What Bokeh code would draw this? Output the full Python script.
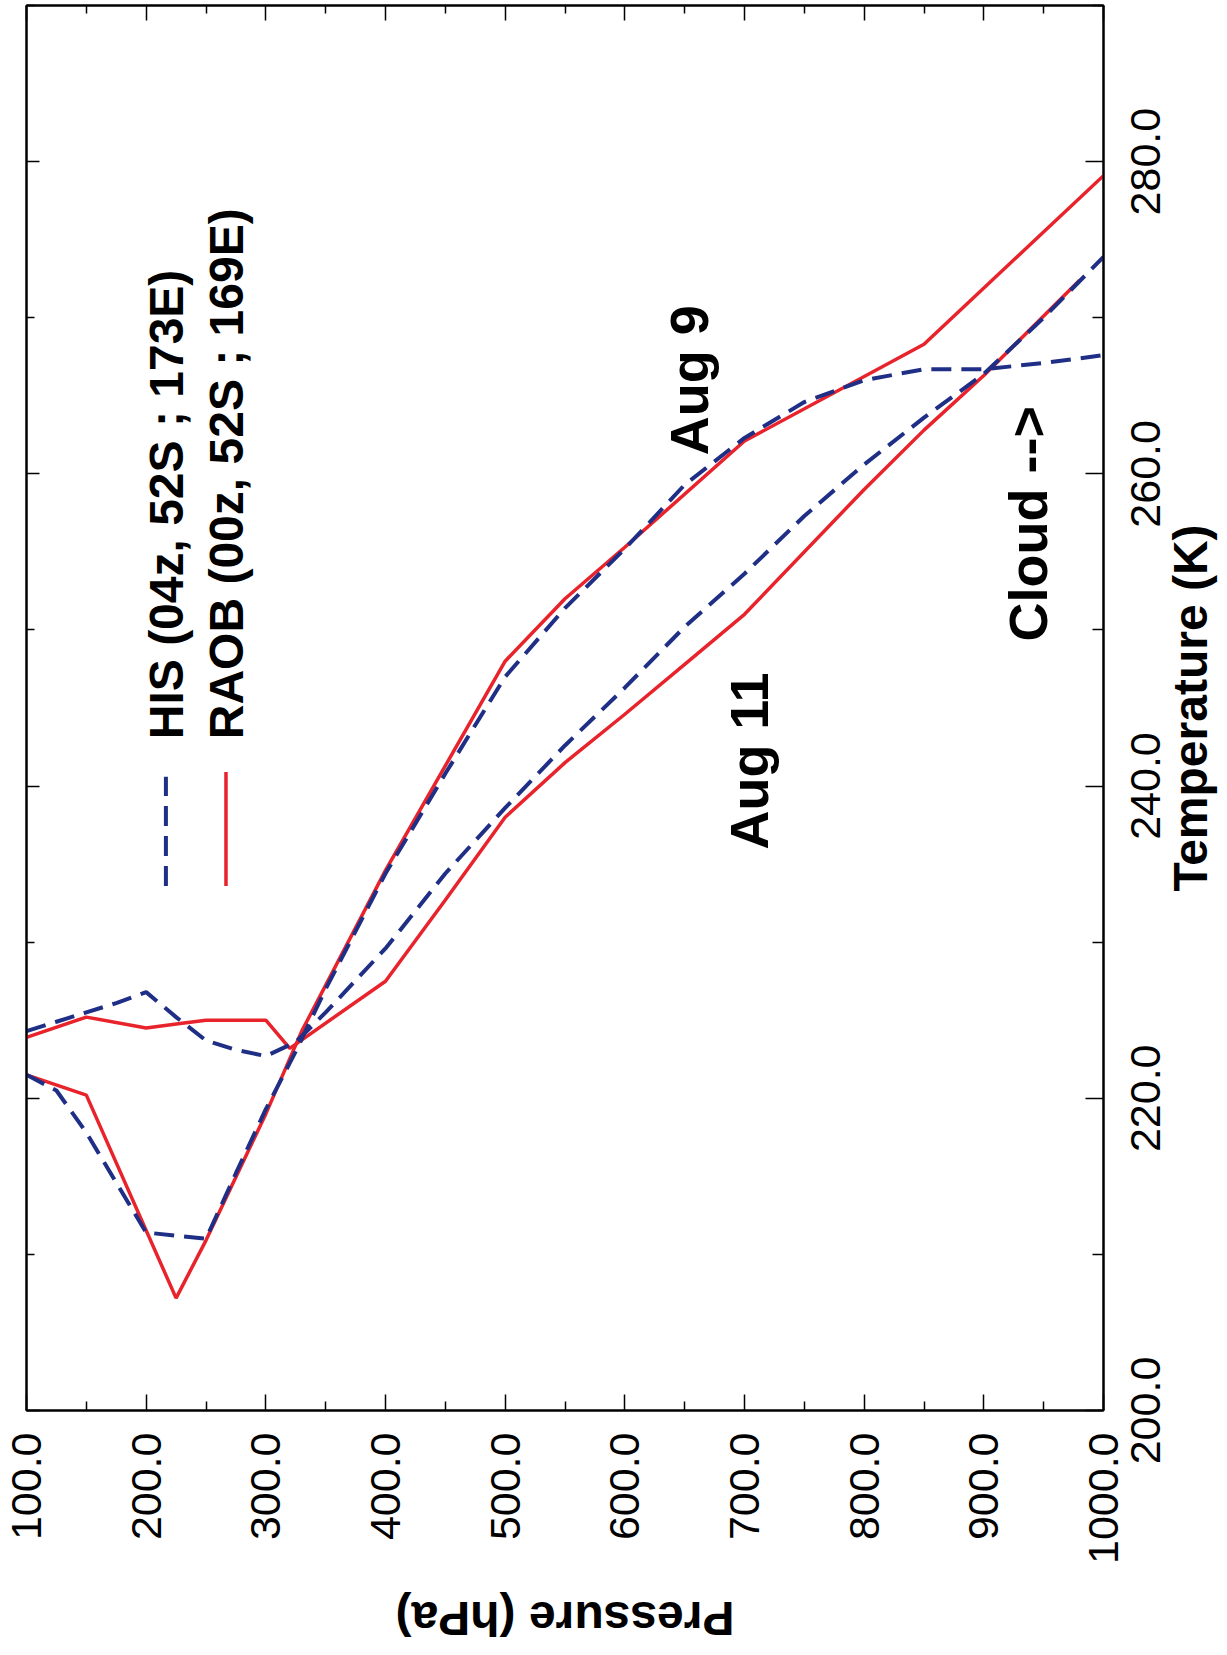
import math
from bokeh.plotting import figure
from bokeh.layouts import row, column
from bokeh.models import LinearAxis, FixedTicker, Range1d, CustomJSTickFormatter
from bokeh.core.properties import value
from bokeh.embed import file_html
from bokeh.resources import INLINE

# ---------------- data ----------------
pressure_ticks = [100, 200, 300, 400, 500, 600, 700, 800, 900, 1000]
pressure_tick_labels = ["100.0", "200.0", "300.0", "400.0", "500.0",
                        "600.0", "700.0", "800.0", "900.0", "1000.0"]
pressure_minor = [150, 250, 350, 450, 550, 650, 750, 850, 950]
temp_ticks = [200, 220, 240, 260, 280]
temp_tick_labels = ["200.0", "220.0", "240.0", "260.0", "280.0"]
temp_minor = [210, 230, 250, 270, 290]

# Aug 9
aug9_his_p = [100, 125, 150, 175, 200, 250, 275, 300, 325, 350, 400, 450, 500,
              550, 600, 650, 700, 750, 800, 850, 900, 950, 1000]
aug9_his_t = [221.5, 220.5, 217.8, 214.6, 211.4, 211.0, 215.2, 219.3, 223.0, 227.0,
              234.4, 240.8, 247.0, 251.4, 255.2, 259.3, 262.3, 264.6, 266.0, 266.7,
              266.7, 267.1, 267.6]
aug9_raob_p = [100, 150, 225, 250, 300, 330, 400, 500, 550, 600, 700, 850, 1000]
aug9_raob_t = [221.5, 220.2, 207.2, 210.9, 219.0, 224.3, 234.6, 248.0, 252.0,
               255.3, 262.1, 268.3, 279.1]

# Aug 11
aug11_his_p = [100, 125, 150, 175, 200, 225, 250, 275, 300, 325, 350, 400, 450, 500,
               550, 600, 650, 700, 750, 800, 850, 900, 950, 1000]
aug11_his_t = [224.3, 224.9, 225.5, 226.1, 226.8, 225.2, 223.7, 223.1, 222.7, 223.6,
               225.5, 229.6, 234.4, 238.6, 242.6, 246.3, 250.2, 253.6, 257.3, 260.6,
               263.6, 266.4, 270.0, 273.9]
aug11_raob_p = [100, 150, 200, 230, 250, 300, 320, 400, 450, 500, 550, 600, 650,
                700, 800, 850, 900, 980]
aug11_raob_t = [223.9, 225.2, 224.5, 224.8, 225.0, 225.0, 223.2, 227.5, 232.7, 238.0,
                241.5, 244.6, 247.8, 251.0, 259.0, 262.8, 266.3, 272.4]

legend_labels = ["HIS (04z, 52S ; 173E)", "RAOB (00z, 52S ; 169E)"]
annotations = ["Aug 9", "Aug 11", "Cloud -->"]
x_title = "Pressure (hPa)"
y_title = "Temperature (K)"

# ---------------- layout / style ----------------
RED = "#e8232b"
BLUE = "#1f2f86"
FONT = "Liberation Sans"
DASH = "20 10"

P_RANGE = (100, 1000)
T_RANGE = (200, 290)
LEFT_B, RIGHT_B, TOP_B, BOTTOM_B = 26, 17, 5, 170
MAIN_W, MAIN_H = 1120, 1580
TITLE_H = 70
TOTAL_W, TOTAL_H = 1225, MAIN_H + TITLE_H
SIDE_W = TOTAL_W - MAIN_W
FRAME_H = MAIN_H - TOP_B - BOTTOM_B
PX_PER_K = FRAME_H / (T_RANGE[1] - T_RANGE[0])
TICKLABEL_X = 24.6   # inside the side panel
YTITLE_X = 70

x_range = Range1d(*P_RANGE)
y_range = Range1d(*T_RANGE)

def bare(fig):
    fig.xgrid.visible = False
    fig.ygrid.visible = False
    fig.background_fill_color = "white"
    fig.border_fill_color = "white"
    return fig

p = bare(figure(width=MAIN_W, height=MAIN_H, x_range=x_range, y_range=y_range,
                output_backend="svg", toolbar_location=None,
                x_axis_location=None, y_axis_location=None,
                min_border_left=LEFT_B, min_border_top=TOP_B,
                min_border_right=RIGHT_B, min_border_bottom=BOTTOM_B))
p.outline_line_color = "black"
p.outline_line_width = 2

blank = "return ''"

def style_axis(ax, tin, tmin):
    ax.axis_line_color = "black"
    ax.axis_line_width = 2
    ax.major_tick_line_color = "black"
    ax.major_tick_line_width = 1.5
    ax.minor_tick_line_color = "black"
    ax.minor_tick_line_width = 1.5
    ax.major_tick_out = 0
    ax.minor_tick_out = 0
    ax.major_tick_in = tin
    ax.minor_tick_in = tmin
    ax.major_label_text_font = FONT
    ax.major_label_text_font_size = "43px"
    ax.major_label_text_color = "black"

bottom = LinearAxis(ticker=FixedTicker(ticks=pressure_ticks, minor_ticks=pressure_minor))
bottom.major_label_overrides = {t: l for t, l in zip(pressure_ticks, pressure_tick_labels)}
style_axis(bottom, 16, 9)
bottom.major_label_orientation = math.pi / 2
bottom.major_label_standoff = 22
p.add_layout(bottom, "below")

def tick_only(ticks, minor, tin, tmin):
    ax = LinearAxis(ticker=FixedTicker(ticks=ticks, minor_ticks=minor),
                    formatter=CustomJSTickFormatter(code=blank))
    style_axis(ax, tin, tmin)
    ax.major_label_text_font_size = "0px"
    ax.major_label_standoff = 0
    return ax

p.add_layout(tick_only(temp_ticks, temp_minor, 18, 11), "right")
p.add_layout(tick_only(pressure_ticks, pressure_minor, 15, 8), "above")
p.add_layout(tick_only(temp_ticks, temp_minor, 13, 8), "left")

# curves
p.line(aug9_raob_p, aug9_raob_t, line_color=RED, line_width=3.5)
p.line(aug11_raob_p, aug11_raob_t, line_color=RED, line_width=3.5)
p.line(aug9_his_p, aug9_his_t, line_color=BLUE, line_width=4, line_dash=DASH)
p.line(aug11_his_p, aug11_his_t, line_color=BLUE, line_width=4, line_dash=DASH)

# legend (rotated, drawn manually)
p.line([216.5, 216.5], [233.6, 240.6], line_color=BLUE, line_width=4, line_dash=DASH)
p.line([266.7, 266.7], [233.6, 240.9], line_color=RED, line_width=3.5)
p.text(x=[216.7, 267.3], y=[243.0, 243.0], text=legend_labels, angle=math.pi / 2,
       text_font=value(FONT), text_font_style="bold", text_font_size="48px",
       text_color="black", text_align="left", text_baseline="alphabetic")

# annotations
p.text(x=[654, 703.5, 937], y=[266.0, 241.6, 256.8], text=annotations, angle=math.pi / 2,
       text_font=value(FONT), text_font_style="bold", text_font_size="54px",
       text_color="black", text_align="center", text_baseline="alphabetic")

# ---- bottom panel: pressure title ----
p3 = bare(figure(width=MAIN_W, height=TITLE_H, x_range=x_range, y_range=Range1d(0, TITLE_H),
                 output_backend="svg", toolbar_location=None,
                 x_axis_location=None, y_axis_location=None,
                 min_border_left=LEFT_B, min_border_right=RIGHT_B,
                 min_border_top=0, min_border_bottom=0))
p3.outline_line_color = None
p3.text(x=[(P_RANGE[0] + P_RANGE[1]) / 2], y=[32], text=[x_title], angle=math.pi,
        text_font=value(FONT), text_font_style="bold", text_font_size="48px",
        text_color="black", text_align="center", text_baseline="alphabetic")

# ---- right-hand panel (full height): temperature tick labels and title ----
side_y = Range1d(T_RANGE[0] - (TOTAL_H - TOP_B - FRAME_H) / PX_PER_K, T_RANGE[1])
p2 = bare(figure(width=SIDE_W, height=TOTAL_H, x_range=Range1d(0, SIDE_W), y_range=side_y,
                 output_backend="svg", toolbar_location=None,
                 x_axis_location=None, y_axis_location=None,
                 min_border_left=0, min_border_right=0,
                 min_border_top=TOP_B, min_border_bottom=0))
p2.outline_line_color = None
p2.text(x=[TICKLABEL_X] * len(temp_ticks), y=temp_ticks, text=temp_tick_labels,
        angle=math.pi / 2, text_font=value(FONT), text_font_size="43px",
        text_color="black", text_align="center", text_baseline="alphabetic")
p2.text(x=[YTITLE_X], y=[(T_RANGE[0] + T_RANGE[1]) / 2], text=[y_title], angle=math.pi / 2,
        text_font=value(FONT), text_font_style="bold", text_font_size="48px",
        text_color="black", text_align="center", text_baseline="alphabetic")

layout = row(column(p, p3), p2)
open("out.html", "w").write(file_html(layout, INLINE))
